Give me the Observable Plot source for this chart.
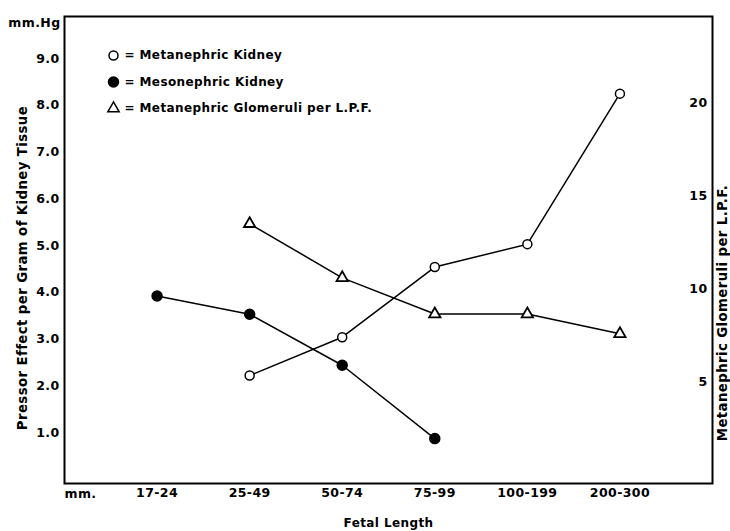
<!DOCTYPE html>
<html><head><meta charset="utf-8">
<script src="https://cdn.jsdelivr.net/npm/d3@7"></script>
<script src="https://cdn.jsdelivr.net/npm/@observablehq/plot@0.6"></script>
<style>
body{margin:0;background:#fff}
svg{font-family:"DejaVu Sans",sans-serif;font-weight:bold}
svg text{letter-spacing:0.4px}
</style>
</head><body><div id="chart"></div>
<script>
// Fetal length classes (mm)
const categories = ["17-24","25-49","50-74","75-99","100-199","200-300"];
// Pressor effect per gram of kidney tissue (mm Hg)
const metanephricKidney = [null, 2.22, 3.04, 4.54, 5.03, 8.25];
const mesonephricKidney = [3.92, 3.53, 2.44, 0.87, null, null];
// Metanephric glomeruli per L.P.F. (right axis)
const glomeruliLPF = [null, 13.5, 10.6, 8.66, 8.66, 7.6];
const leftTicks = [1, 2, 3, 4, 5, 6, 7, 8, 9];
const rightTicks = [5, 10, 15, 20];
const legendItems = [
  {label: "= Metanephric Kidney", symbol: "circle", fill: "white"},
  {label: "= Mesonephric Kidney", symbol: "circle", fill: "black"},
  {label: "= Metanephric Glomeruli per L.P.F.", symbol: "triangle", fill: "white"}
];

// map right-axis values onto the left-axis scale
const rightToLeft = d3.scaleLinear().domain([0, 20]).range([0.08, 8.06]);

const rows = (vals, f = v => v) => categories
  .map((c, i) => ({x: i + 1, y: vals[i] == null ? null : f(vals[i])}))
  .filter(d => d.y != null);
const meta = rows(metanephricKidney);
const meso = rows(mesonephricKidney);
const glom = rows(glomeruliLPF, rightToLeft);

const legendMarks = legendItems.flatMap((d, i) => [
  Plot.dot([d], {frameAnchor: "top-left", dx: 49, dy: 39 + i * 26.5, symbol: d.symbol,
    r: d.symbol === "triangle" ? 4.2 : (d.fill === "black" ? 5 : 4.5),
    fill: d.fill, stroke: "black", strokeWidth: 1.5}),
  Plot.text([d.label], {frameAnchor: "top-left", dx: 60, dy: 39 + i * 26.5, textAnchor: "start",
    lineAnchor: "middle", fontSize: 12, fontWeight: "bold"})
]);

const chart = Plot.plot({
  width: 730, height: 531,
  marginLeft: 64, marginRight: 18, marginTop: 16, marginBottom: 48,
  x: {type: "linear", domain: [0, 7]},
  y: {type: "linear", domain: [-0.09, 9.9]},
  marks: [
    Plot.line(meta, {x: "x", y: "y", stroke: "black", strokeWidth: 1.5}),
    Plot.line(meso, {x: "x", y: "y", stroke: "black", strokeWidth: 1.5}),
    Plot.line(glom, {x: "x", y: "y", stroke: "black", strokeWidth: 1.5}),
    Plot.dot(meta, {x: "x", y: "y", r: 4.5, fill: "white", stroke: "black", strokeWidth: 1.5}),
    Plot.dot(meso, {x: "x", y: "y", r: 5, fill: "black", stroke: "black"}),
    Plot.dot(glom, {x: "x", y: "y", symbol: "triangle", r: 4.2, fill: "white", stroke: "black", strokeWidth: 1.8}),
    Plot.frame({stroke: "black", strokeWidth: 2}),
    Plot.axisY(leftTicks, {anchor: "left", tickSize: 0, tickPadding: 5, tickFormat: d3.format(".1f"),
      fontSize: 12.5, label: null}),
    Plot.axisY(rightTicks.map(rightToLeft), {anchor: "right", tickSize: 0, tickPadding: -5, textAnchor: "end",
      tickFormat: d => String(Math.round(rightToLeft.invert(d))), fontSize: 12.5, label: null}),
    Plot.axisX([1, 2, 3, 4, 5, 6], {tickSize: 0, tickPadding: 5, tickFormat: d => categories[d - 1],
      fontSize: 12.5, label: null}),
    Plot.text(["mm."], {frameAnchor: "bottom-left", dy: 10, textAnchor: "start", lineAnchor: "middle", fontSize: 12.5}),
    Plot.text(["mm.Hg"], {frameAnchor: "top-left", dx: -4, dy: 6, textAnchor: "end", lineAnchor: "middle", fontSize: 12.5}),
    Plot.text(["Fetal Length"], {frameAnchor: "bottom", dy: 40, textAnchor: "middle", lineAnchor: "middle", fontSize: 12}),
    Plot.text(["Pressor Effect per Gram of Kidney Tissue"], {frameAnchor: "left", dx: -42, dy: 18,
      textAnchor: "middle", lineAnchor: "middle", rotate: -90, fontSize: 13.3}),
    Plot.text(["Metanephric Glomeruli per L.P.F."], {frameAnchor: "right", dx: 10, dy: 63,
      textAnchor: "middle", lineAnchor: "middle", rotate: -90, fontSize: 13.3}),
    ...legendMarks
  ]
});
document.getElementById("chart").appendChild(chart);
</script>
</body></html>
